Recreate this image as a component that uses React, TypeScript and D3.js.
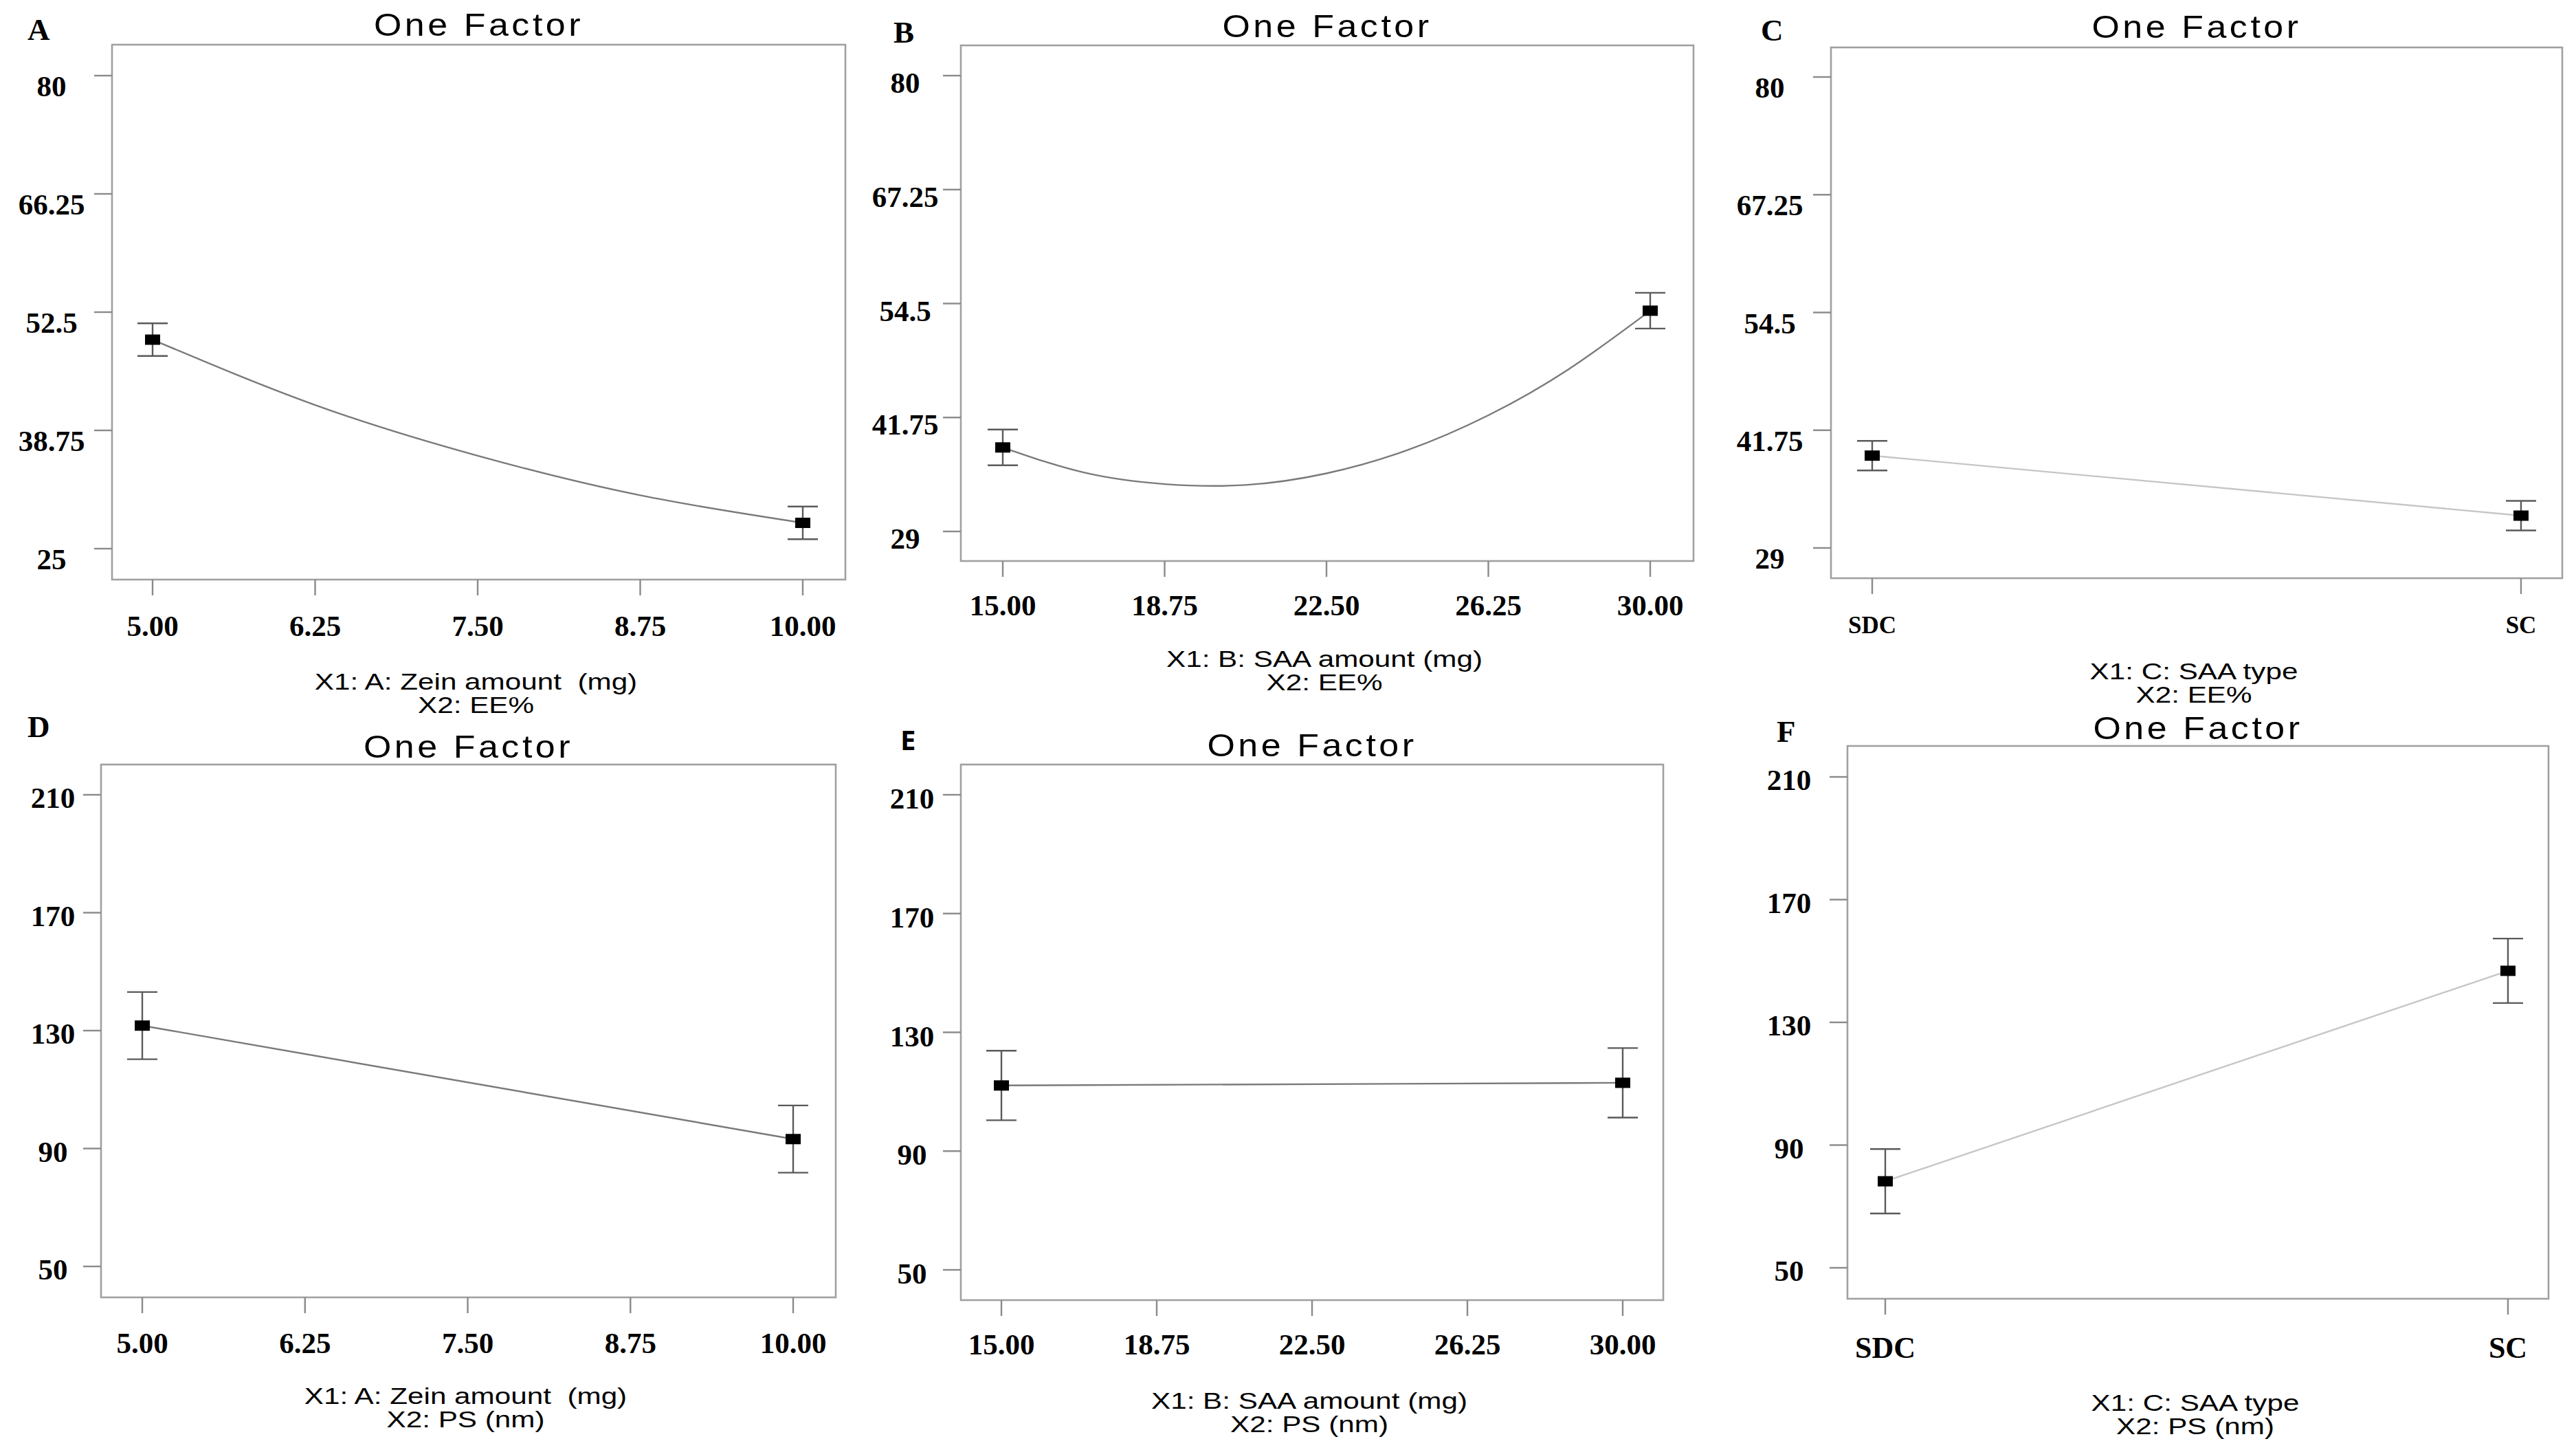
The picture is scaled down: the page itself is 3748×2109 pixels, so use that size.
import React from 'react';
import * as d3 from 'd3';

const W = 3748;
const H = 2109;

// ---------- data ----------
const panelLetters = ['A', 'B', 'C', 'D', 'E', 'F'];
const panelTitle = 'One Factor';

const zeinTicks = [5, 6.25, 7.5, 8.75, 10];
const zeinTickLabels = ['5.00', '6.25', '7.50', '8.75', '10.00'];
const saaTicks = [15, 18.75, 22.5, 26.25, 30];
const saaTickLabels = ['15.00', '18.75', '22.50', '26.25', '30.00'];
const saaTypes = ['SDC', 'SC'];

const eeTicksA = [25, 38.75, 52.5, 66.25, 80];
const eeTickLabelsA = ['25', '38.75', '52.5', '66.25', '80'];
const eeTicksBC = [29, 41.75, 54.5, 67.25, 80];
const eeTickLabelsBC = ['29', '41.75', '54.5', '67.25', '80'];
const psTicks = [50, 90, 130, 170, 210];
const psTickLabels = ['50', '90', '130', '170', '210'];

const axisLabelA = ['X1: A: Zein amount  (mg)', 'X2: EE%'];
const axisLabelB = ['X1: B: SAA amount (mg)', 'X2: EE%'];
const axisLabelC = ['X1: C: SAA type', 'X2: EE%'];
const axisLabelD = ['X1: A: Zein amount  (mg)', 'X2: PS (nm)'];
const axisLabelE = ['X1: B: SAA amount (mg)', 'X2: PS (nm)'];
const axisLabelF = ['X1: C: SAA type', 'X2: PS (nm)'];

// A: EE% vs zein amount
const zeinLevels = [5, 10];
const eeZeinMean = [49.3, 28.0];
const eeZeinErr = [1.9, 1.9];
const eeZeinCurveX = [5, 6.25, 7.5, 8.75, 10];
const eeZeinCurveY = [49.3, 41.7, 35.8, 31.2, 28.0];

// B: EE% vs SAA amount
const saaLevels = [15, 30];
const eeSaaMean = [38.4, 53.7];
const eeSaaErr = [2.0, 2.0];
const eeSaaCurveX = [15, 16.875, 18.75, 20.625, 22.5, 24.375, 26.25, 28.125, 30];
const eeSaaCurveY = [38.4, 35.6, 34.3, 34.2, 35.5, 38.1, 42.0, 47.2, 53.7];

// C: EE% vs SAA type
const eeTypeMean = [39.0, 32.5];
const eeTypeErr = [1.6, 1.6];

// D: PS vs zein amount
const psZeinMean = [131.7, 93.2];
const psZeinErr = [11.4, 11.4];

// E: PS vs SAA amount
const psSaaMean = [112.1, 113.0];
const psSaaErr = [11.7, 11.7];

// F: PS vs SAA type
const psTypeMean = [78.2, 146.8];
const psTypeErr = [10.5, 10.5];

// ---------- panel definitions ----------
type Panel = {
  letter: string;
  cat: boolean;
  xDomain: any[];
  xTicks: any[];
  xTickLabels: string[];
  yTicks: number[];
  yTickLabels: string[];
  xs: any[];
  means: number[];
  errs: number[];
  curveX?: number[];
  curveY?: number[];
  axisLabel: string[];
  lineColor: string;
  layout: any;
};

const layouts = [
  { left: 163, right: 1230, top: 65, bottom: 843, xr: [222, 1168], yr: [798, 110], title: 52, letter: [40, 58], xlab: 82, axis: 1003, ygap: 88, ydy: 15, xfs: 43 },
  { left: 1398, right: 2464, top: 66, bottom: 816, xr: [1459, 2401], yr: [773, 110], title: 54, letter: [1300, 62], xlab: 79, axis: 970, ygap: 81, ydy: 10, xfs: 43 },
  { left: 2664, right: 3728, top: 69, bottom: 841, xr: [2724, 3668], yr: [797, 112], title: 55, letter: [2562, 59], xlab: 80, axis: 988, ygap: 89, ydy: 15, xfs: 35 },
  { left: 147, right: 1216, top: 1112, bottom: 1887, xr: [207, 1154], yr: [1842, 1156], title: 1102, letter: [40, 1072], xlab: 81, axis: 2042, ygap: 70, ydy: 4, xfs: 43 },
  { left: 1398, right: 2420, top: 1112, bottom: 1891, xr: [1457, 2361], yr: [1847, 1156], title: 1100, letter: [1310, 1091], xlab: 79, axis: 2049, ygap: 71, ydy: 5, xfs: 43 },
  { left: 2688, right: 3708, top: 1085, bottom: 1889, xr: [2743, 3649], yr: [1844, 1130], title: 1075, letter: [2585, 1079], xlab: 86, axis: 2052, ygap: 85, ydy: 4, xfs: 44 },
];

const DARK_LINE = '#7a7a7a';
const LIGHT_LINE = '#c6c6c6';

const panels: Panel[] = [
  { letter: panelLetters[0], cat: false, xDomain: [5, 10], xTicks: zeinTicks, xTickLabels: zeinTickLabels, yTicks: eeTicksA, yTickLabels: eeTickLabelsA, xs: zeinLevels, means: eeZeinMean, errs: eeZeinErr, curveX: eeZeinCurveX, curveY: eeZeinCurveY, axisLabel: axisLabelA, lineColor: DARK_LINE, layout: layouts[0] },
  { letter: panelLetters[1], cat: false, xDomain: [15, 30], xTicks: saaTicks, xTickLabels: saaTickLabels, yTicks: eeTicksBC, yTickLabels: eeTickLabelsBC, xs: saaLevels, means: eeSaaMean, errs: eeSaaErr, curveX: eeSaaCurveX, curveY: eeSaaCurveY, axisLabel: axisLabelB, lineColor: DARK_LINE, layout: layouts[1] },
  { letter: panelLetters[2], cat: true, xDomain: saaTypes, xTicks: saaTypes, xTickLabels: saaTypes, yTicks: eeTicksBC, yTickLabels: eeTickLabelsBC, xs: saaTypes, means: eeTypeMean, errs: eeTypeErr, axisLabel: axisLabelC, lineColor: LIGHT_LINE, layout: layouts[2] },
  { letter: panelLetters[3], cat: false, xDomain: [5, 10], xTicks: zeinTicks, xTickLabels: zeinTickLabels, yTicks: psTicks, yTickLabels: psTickLabels, xs: zeinLevels, means: psZeinMean, errs: psZeinErr, axisLabel: axisLabelD, lineColor: DARK_LINE, layout: layouts[3] },
  { letter: panelLetters[4], cat: false, xDomain: [15, 30], xTicks: saaTicks, xTickLabels: saaTickLabels, yTicks: psTicks, yTickLabels: psTickLabels, xs: saaLevels, means: psSaaMean, errs: psSaaErr, axisLabel: axisLabelE, lineColor: DARK_LINE, layout: layouts[4] },
  { letter: panelLetters[5], cat: true, xDomain: saaTypes, xTicks: saaTypes, xTickLabels: saaTypes, yTicks: psTicks, yTickLabels: psTickLabels, xs: saaTypes, means: psTypeMean, errs: psTypeErr, axisLabel: axisLabelF, lineColor: LIGHT_LINE, layout: layouts[5] },
];

const SERIF = '"Liberation Serif", "Times New Roman", serif';
const SANS = '"Liberation Sans", Arial, sans-serif';

function PanelView({ p }: { p: Panel }) {
  const L = p.layout;
  const yScale = d3.scaleLinear().domain([p.yTicks[0], p.yTicks[p.yTicks.length - 1]]).range(L.yr);
  const xScale: any = p.cat
    ? d3.scalePoint<string>().domain(p.xDomain as string[]).range(L.xr).padding(0)
    : d3.scaleLinear().domain(p.xDomain as number[]).range(L.xr);

  let pathD = '';
  if (p.curveX && p.curveY) {
    const pts = p.curveX.map((x, i) => [x, p.curveY![i]] as [number, number]);
    pathD = d3.line<[number, number]>()
      .x((d) => xScale(d[0]))
      .y((d) => yScale(d[1]))
      .curve(d3.curveNatural)(pts) || '';
  } else {
    const pts = p.xs.map((x, i) => [x, p.means[i]] as [any, number]);
    pathD = d3.line<[any, number]>()
      .x((d) => xScale(d[0]))
      .y((d) => yScale(d[1]))(pts) || '';
  }

  const cx = (L.left + L.right) / 2;
  const letterIsSans = p.letter === 'E';

  return (
    <g>
      {/* frame */}
      <rect x={L.left} y={L.top} width={L.right - L.left} height={L.bottom - L.top} fill="none" stroke="#a0a0a0" strokeWidth={2.6} />
      {/* y ticks */}
      {p.yTicks.map((t, i) => (
        <g key={'y' + i}>
          <line x1={L.left - 26} x2={L.left} y1={yScale(t)} y2={yScale(t)} stroke="#8a8a8a" strokeWidth={2.4} />
          <text x={L.left - L.ygap} y={yScale(t) + L.ydy + 15} textAnchor="middle" fontFamily={SERIF} fontWeight="bold" fontSize={43} fill="#000">
            {p.yTickLabels[i]}
          </text>
        </g>
      ))}
      {/* x ticks */}
      {p.xTicks.map((t, i) => (
        <g key={'x' + i}>
          <line x1={xScale(t)} x2={xScale(t)} y1={L.bottom} y2={L.bottom + 23} stroke="#8a8a8a" strokeWidth={2.4} />
          <text x={xScale(t)} y={L.bottom + L.xlab} textAnchor="middle" fontFamily={SERIF} fontWeight="bold" fontSize={L.xfs} fill="#000">
            {p.xTickLabels[i]}
          </text>
        </g>
      ))}
      {/* fitted line */}
      <path d={pathD} fill="none" stroke={p.lineColor} strokeWidth={2.4} />
      {/* error bars + points */}
      {p.xs.map((x, i) => {
        const px = xScale(x);
        const y0 = yScale(p.means[i] - p.errs[i]);
        const y1 = yScale(p.means[i] + p.errs[i]);
        const py = yScale(p.means[i]);
        return (
          <g key={'pt' + i}>
            <line x1={px} x2={px} y1={y0} y2={y1} stroke="#5a5a5a" strokeWidth={2.4} />
            <line x1={px - 22} x2={px + 22} y1={y0} y2={y0} stroke="#5a5a5a" strokeWidth={2.4} />
            <line x1={px - 22} x2={px + 22} y1={y1} y2={y1} stroke="#5a5a5a" strokeWidth={2.4} />
            <rect x={px - 11} y={py - 7.5} width={22} height={15} fill="#000" />
          </g>
        );
      })}
      {/* title */}
      <g transform={`translate(${cx},${L.title}) scale(1.13,1)`}>
        <text x={0} y={0} textAnchor="middle" fontFamily={SANS} fontSize={46} letterSpacing={4} fill="#000">
          {panelTitle}
        </text>
      </g>
      {/* panel letter */}
      <text x={L.letter[0]} y={L.letter[1]} fontFamily={letterIsSans ? '"Open Sans", "Noto Sans", sans-serif' : SERIF} fontWeight="bold" fontSize={letterIsSans ? 40 : 45} fill="#000">
        {p.letter}
      </text>
      {/* axis labels */}
      {p.axisLabel.map((s, i) => (
        <g key={'al' + i} transform={`translate(${cx - 4},${L.axis + i * 34}) scale(1.28,1)`}>
          <text x={0} y={0} textAnchor="middle" fontFamily={SANS} fontSize={33} fill="#000" style={{ whiteSpace: 'pre' }}>
            {s}
          </text>
        </g>
      ))}
    </g>
  );
}

export default function App() {
  return (
    <svg
      width={W}
      height={H}
      viewBox={`0 0 ${W} ${H}`}
      style={{ position: 'absolute', left: 0, top: 0, background: '#fff' }}
      xmlns="http://www.w3.org/2000/svg"
    >
      <rect x={0} y={0} width={W} height={H} fill="#fff" />
      {panels.map((p) => (
        <PanelView key={p.letter} p={p} />
      ))}
    </svg>
  );
}
